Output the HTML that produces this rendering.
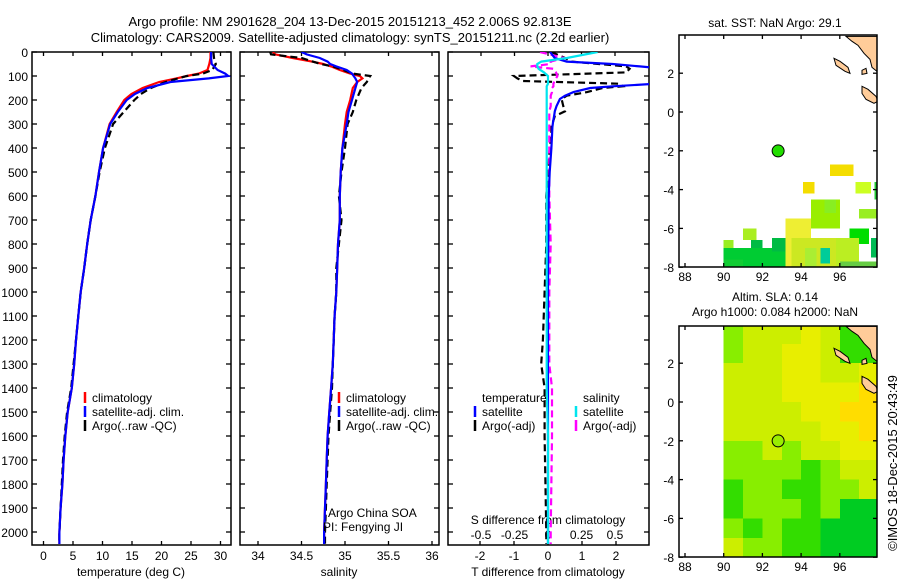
<!DOCTYPE html>
<html><head><meta charset="utf-8">
<style>
html,body{margin:0;padding:0;background:#fff;}
svg{display:block;font-family:"Liberation Sans",sans-serif;font-size:12px;}
</style></head>
<body>
<svg id="fig" width="900" height="580" viewBox="0 0 900 580" xmlns="http://www.w3.org/2000/svg">
<defs>
<clipPath id="c1"><rect x="32" y="52" width="199" height="493"/></clipPath>
<clipPath id="c2"><rect x="240" y="52" width="199" height="493"/></clipPath>
<clipPath id="c3"><rect x="448" y="52" width="201" height="493"/></clipPath>
<clipPath id="m1"><rect x="679" y="35" width="198" height="232"/></clipPath>
<clipPath id="m2"><rect x="679" y="326" width="198" height="231"/></clipPath>
</defs>
<text x="350" y="26" text-anchor="middle" font-size="13">Argo profile: NM 2901628_204 13-Dec-2015 20151213_452 2.006S 92.813E</text>
<text x="350" y="42" text-anchor="middle" font-size="13">Climatology: CARS2009. Satellite-adjusted climatology: synTS_20151211.nc (2.2d earlier)</text>
<g id="g"></g>
</svg>
<script>
// ---- data ----
var tDepth   = [0,25,50,75,90,100,110,125,150,175,200,250,300,400,500,600,700,800,900,1000,1100,1200,1300,1400,1500,1600,1700,1800,1900,2000,2050];
var tClim    = [28.3,28.3,28.1,27.8,26.3,24.3,22.5,19.6,16.8,14.9,13.7,12.4,11.2,10.1,9.4,8.8,8.0,7.4,6.9,6.3,5.9,5.5,5.2,4.8,4.1,3.7,3.4,3.2,2.9,2.7,2.7];
var tSat     = [28.4,28.4,28.5,29.5,30.8,31.3,28.0,21.5,17.6,15.5,14.1,12.6,11.3,10.1,9.4,8.8,8.0,7.4,6.9,6.3,5.9,5.5,5.2,4.8,4.1,3.7,3.4,3.2,2.9,2.7,2.7];
var tArgo    = [28.8,28.9,29.2,28.6,27.0,24.3,22.8,20.7,18.2,16.5,15.4,13.6,11.8,10.4,9.5,8.8,8.0,7.4,6.9,6.3,5.9,5.5,5.1,4.7,4.0,3.6,3.3,3.1,2.9,2.7,2.7];
var sDepth   = [0,10,25,40,50,60,75,90,100,110,125,150,200,250,300,400,500,600,700,800,900,1000,1100,1200,1300,1400,1500,1600,1700,1800,1900,2000,2050];
var sClim    = [34.17,34.2,34.4,34.62,34.75,34.84,34.94,35.06,35.17,35.2,35.14,35.09,35.06,35.02,35.0,34.97,34.95,34.94,34.94,34.92,34.91,34.9,34.88,34.87,34.86,34.84,34.82,34.8,34.79,34.78,34.77,34.76,34.76];
var sSat     = [34.5,34.56,34.71,34.8,34.83,34.9,35.02,35.08,35.1,35.12,35.14,35.12,35.08,35.04,35.02,34.97,34.95,34.94,34.94,34.92,34.91,34.9,34.88,34.87,34.86,34.84,34.82,34.8,34.79,34.78,34.77,34.76,34.76];
var sArgo    = [34.14,34.15,34.5,34.63,34.72,34.86,34.98,35.09,35.29,35.27,35.25,35.19,35.13,35.09,35.03,35.0,34.96,34.93,34.96,34.93,34.9,34.9,34.88,34.87,34.86,34.85,34.83,34.81,34.8,34.79,34.78,34.77,34.77];
var dDepth   = [0,25,40,50,60,70,85,100,110,121,132,143,150,167,182,196,226,247,267,290,313,340,400,500,600,800,1000,1200,1300,1400,1600,2000,2050];
var dTSat    = [0.06,0.2,0.55,1.9,2.7,3.5,4,4,4,4,3.2,1.9,1.24,0.75,0.5,0.35,0.25,0.2,0.18,0.15,0.13,0.12,0.1,0.05,0.02,0.01,0,0,0,0,0,0,0];
var dTArgo   = [0.1,0.5,0.7,1.5,2.3,2.4,2.3,-1.0,-0.9,-0.74,2.1,2.2,1.6,1.15,0.55,0.4,0.45,0.5,0.2,0.15,0.1,0.1,0.05,0.0,-0.05,-0.05,-0.1,-0.15,-0.2,-0.1,-0.1,-0.05,-0.05];
var dSSat    = [0.37,0.14,-0.05,-0.08,-0.08,-0.07,-0.03,0,0,0,0,-0.01,-0.01,-0.01,-0.01,-0.01,-0.01,-0.01,-0.01,-0.01,-0.01,-0.01,-0.01,-0.01,-0.01,-0.01,-0.01,-0.01,-0.01,-0.01,0,0,0];
var dSArgo   = [-0.06,0.12,0.02,0.02,-0.13,0.04,0.06,0.07,0.06,0.05,0.04,0.04,0.03,0.03,0.02,0.02,0.02,0.01,0.01,0.01,0.01,0.01,0.01,0.01,0.01,0.02,0.01,0.01,0.01,0.03,0.03,0.02,0.02];
var depthTicks = [0,100,200,300,400,500,600,700,800,900,1000,1100,1200,1300,1400,1500,1600,1700,1800,1900,2000];
var tTicks = [0,5,10,15,20,25,30];
var sTicks = [34,34.5,35,35.5,36];
var sTickLabels = ["34","34.5","35","35.5","36"];
var dtTicks = [-2,-1,0,1,2];
var dsTicks = [-0.5,-0.25,0,0.25,0.5];
var dsTickLabels = ["-0.5","-0.25","0","0.25","0.5"];
var lonTicks = [88,90,92,94,96];
var latTicks = [2,0,-2,-4,-6,-8];
var argoLon = [92.813];
var argoLat = [-2.006];
// SLA field: rows lat 4..-8, cols lon 90..98
var slaRows = ["lyyyYyGG","lyyYYyGG","yyyYYyyY","yyyYYYYo","yyyyYYoo","yyyyyYYo","llylyyYY","llllGlyy","GllGGlly","GlllGlgg","lGlGGggg","yllGGggg"];
var slaPal = {g:"#00cc22",G:"#33dd00",l:"#88ee00",y:"#ccee00",Y:"#e8ee00",o:"#ffdd00"};
// SST cells: lon0, lon1, lat0, lat1, color
var sstLon0 = [95.5,94.1,90,90,91,91.4,92.5,93.2,93.5,94.5,95.0,96.8,97.8,97.0,96.5,95.8,97.6,96.0,90,92,94.2,95.2];
var sstLon1 = [96.7,94.7,93.2,90.5,91.7,92.0,93.2,94.5,95.8,96.0,95.5,97.6,98.0,98.0,97.5,97.0,98.0,98.0,91,93,94.8,95.8];
var sstLat0 = [-2.7,-3.6,-7.0,-6.6,-6.0,-6.6,-6.5,-5.5,-6.5,-4.5,-7.0,-3.6,-3.6,-5.0,-6.0,-6.5,-6.5,-7.7,-7.6,-7.4,-7.0,-4.5];
var sstLat1 = [-3.3,-4.2,-8.0,-7.0,-6.6,-7.0,-7.2,-8.0,-8.0,-6.0,-7.8,-4.2,-4.5,-5.5,-6.8,-8.0,-7.5,-8.0,-8.0,-8.0,-8.0,-5.2];
var sstCol  = ["#f4dd00","#f4dd00","#00cc33","#99ee22","#aaee22","#00bb44","#00bb44","#eeee33","#cce822","#99ee00","#00cc99","#ccff22","#22cc33","#99ee22","#00dd00","#bbee22","#00bb55","#66cc44","#11cc33","#00cc33","#aaee33","#88ee22"];

// ---- helpers ----
var NS="http://www.w3.org/2000/svg", G=document.getElementById('g');
function el(tag, at, parent){var e=document.createElementNS(NS,tag);for(var k in at)e.setAttribute(k,at[k]);(parent||G).appendChild(e);return e;}
function yD(d){return 52+d*0.24;}
function xT(t){return 43.5+t*5.9;}
function xS(s){return 258+(s-34)*87;}
function xDT(t){return 548+t*34;}
function xDS(s){return 548+s*134;}
function mx(lon){return 685+(lon-88)*19.35;}
function my1(lat){return 112-lat*19.4;}
function my2(lat){return 402-lat*19.4;}
function txt(x,y,s,anchor,name,size){var t=el('text',{x:x,y:y,'text-anchor':anchor||'start'});if(size)t.setAttribute('font-size',size);t.textContent=s;
 
 
 return t;}
function series(depths, vals, xf, color, dash, clip, name){
 var pts=[];for(var i=0;i<depths.length;i++)pts.push(xf(vals[i]).toFixed(1)+','+yD(depths[i]).toFixed(1));
 var p=el('polyline',{points:pts.join(' '),fill:'none',stroke:color,'stroke-width':2.2,'clip-path':'url(#'+clip+')'});
 if(dash)p.setAttribute('stroke-dasharray','7,4');
 
 
}
function frame(x0,x1,y0,y1,name){var r=el('rect',{x:x0,y:y0,width:x1-x0,height:y1-y0,fill:'none',stroke:'#000','stroke-width':1.5});
 
 }
function tick(x1,y1,x2,y2){el('line',{x1:x1,y1:y1,x2:x2,y2:y2,stroke:'#000','stroke-width':1.3});}

// ---- profile panels ----
var panels=[[32,231],[240,439],[448,649]];
panels.forEach(function(p,k){
 frame(p[0],p[1],52,545,'profile-panel-'+(k+1)+'-frame');
 depthTicks.forEach(function(d){tick(p[0],yD(d),p[0]+5,yD(d));tick(p[1]-5,yD(d),p[1],yD(d));});
});
depthTicks.forEach(function(d){txt(28,yD(d)+5,String(d),'end','depth-tick-label');});
tTicks.forEach(function(t){tick(xT(t),52,xT(t),56);tick(xT(t),545,xT(t),541);txt(xT(t),560,String(t),'middle','temperature-tick-label');});
sTicks.forEach(function(s,i){tick(xS(s),52,xS(s),56);tick(xS(s),545,xS(s),541);txt(xS(s),560,sTickLabels[i],'middle','salinity-tick-label');});
dsTicks.forEach(function(s,i){tick(xDS(s),52,xDS(s),56);txt(xDS(s),539,dsTickLabels[i],'middle','s-difference-tick-label');});
dtTicks.forEach(function(t){tick(xDT(t),545,xDT(t),541);txt(xDT(t),560,String(t),'middle','t-difference-tick-label');});
txt(131,576,'temperature (deg C)','middle','temperature-axis-title');
txt(339,576,'salinity','middle','salinity-axis-title');
txt(548,576,'T difference from climatology','middle','t-difference-axis-title');
txt(548,524,'S difference from climatology','middle','s-difference-axis-title');

series(tDepth,tClim,xT,'#ff0000',false,'c1','temperature-climatology-line');
series(tDepth,tArgo,xT,'#000000',true,'c1','temperature-argo-line');
series(tDepth,tSat,xT,'#0000ff',false,'c1','temperature-satellite-line');
series(sDepth,sClim,xS,'#ff0000',false,'c2','salinity-climatology-line');
series(sDepth,sArgo,xS,'#000000',true,'c2','salinity-argo-line');
series(sDepth,sSat,xS,'#0000ff',false,'c2','salinity-satellite-line');
series(dDepth,dTArgo,xDT,'#000000',true,'c3','t-difference-argo-line');
series(dDepth,dSArgo,xDS,'#ff00ff',true,'c3','s-difference-argo-line');
series(dDepth,dTSat,xDT,'#0000ff',false,'c3','t-difference-satellite-line');
series(dDepth,dSSat,xDS,'#00e5ee',false,'c3','s-difference-satellite-line');

function legend(x,y,color,label,name){
 var l=el('line',{x1:x,y1:y-10,x2:x,y2:y+1,stroke:color,'stroke-width':2.5});
 
 
 txt(x+7,y,label,'start',name);
}
legend(85,402,'#ff0000','climatology','legend-climatology');
legend(85,416,'#0000ff','satellite-adj. clim.','legend-satellite');
legend(85,430,'#000000','Argo(..raw -QC)','legend-argo');
legend(339,402,'#ff0000','climatology','legend-sal-climatology');
legend(339,416,'#0000ff','satellite-adj. clim.','legend-sal-satellite');
legend(339,430,'#000000','Argo(..raw -QC)','legend-sal-argo');
txt(482,402,'temperature','start','legend-temperature-heading');
txt(583,402,'salinity','start','legend-salinity-heading');
legend(475,416,'#0000ff','satellite','legend-t-satellite');
legend(475,430,'#000000','Argo(-adj)','legend-t-argo');
legend(576,416,'#00e5ee','satellite','legend-s-satellite');
legend(576,430,'#ff00ff','Argo(-adj)','legend-s-argo');
txt(328,517,'Argo China SOA','start','data-centre-label');
txt(323,531,'PI: Fengying JI','start','pi-label');

// ---- maps ----
function land(my,clip,name){
 var g=el('g',{'clip-path':'url(#'+clip+')'});
 
 
 var o=my(3.9)-35;
 el('polygon',{points:'846,'+(35+o)+' 852,'+(40+o)+' 858,'+(44+o)+' 864,'+(52+o)+' 870,'+(58+o)+' 872,'+(66+o)+' 877,'+(70+o)+' 878,'+(35+o),fill:'#ffcc99',stroke:'#000','stroke-width':1},g);
 el('polygon',{points:'834,'+(57+o)+' 840,'+(60+o)+' 848,'+(66+o)+' 850,'+(72+o)+' 845,'+(70+o)+' 836,'+(64+o),fill:'#ffcc99',stroke:'#000','stroke-width':1},g);
 el('polygon',{points:'862,'+(69+o)+' 866,'+(67+o)+' 867,'+(72+o)+' 862,'+(73+o),fill:'#ffcc99',stroke:'#000','stroke-width':1},g);
 el('polygon',{points:'862,'+(85+o)+' 868,'+(88+o)+' 876,'+(95+o)+' 878,'+(100+o)+' 874,'+(102+o)+' 866,'+(98+o)+' 862,'+(92+o),fill:'#ffcc99',stroke:'#000','stroke-width':1},g);
}
// map 1 SST
var gs=el('g',{'clip-path':'url(#m1)','shape-rendering':'crispEdges'});


for(var i=0;i<sstLon0.length;i++){
 var r=el('rect',{x:mx(sstLon0[i]),y:my1(sstLat0[i]),width:mx(sstLon1[i])-mx(sstLon0[i]),height:my1(sstLat1[i])-my1(sstLat0[i]),fill:sstCol[i]},gs);
 
 
}
land(my1,'m1','sst-map-land');
// map 2 SLA
var ga=el('g',{'clip-path':'url(#m2)','shape-rendering':'crispEdges'});


for(var r0=0;r0<slaRows.length;r0++){for(var c=0;c<8;c++){
 var cell=el('rect',{x:mx(90+c),y:my2(4-r0),width:19.5,height:19.6,fill:slaPal[slaRows[r0][c]]},ga);
 
 
}}
land(my2,'m2','sla-map-land');
[[my1,35,267,'sst-map'],[my2,326,557,'sla-map']].forEach(function(m){
 frame(679,877,m[1],m[2],m[3]+'-frame');
 lonTicks.forEach(function(l){tick(mx(l),m[1],mx(l),m[1]+4);tick(mx(l),m[2],mx(l),m[2]-4);txt(mx(l),m[2]+14,String(l),'middle',m[3]+'-lon-tick-label');});
 latTicks.forEach(function(l){tick(679,m[0](l),683,m[0](l));tick(877,m[0](l),873,m[0](l));txt(674,m[0](l)+5,String(l),'end',m[3]+'-lat-tick-label');});
});
var d1=el('circle',{cx:mx(argoLon[0]),cy:my1(argoLat[0]),r:6,fill:'#22dd00',stroke:'#000','stroke-width':1});


var d2=el('circle',{cx:mx(argoLon[0]),cy:my2(argoLat[0]),r:6,fill:'#99ee00',stroke:'#000','stroke-width':1});


txt(775,27,'sat. SST: NaN Argo: 29.1','middle','sst-map-title');
txt(775,301,'Altim. SLA: 0.14','middle','sla-map-title-1');
txt(775,316,'Argo h1000: 0.084 h2000: NaN','middle','sla-map-title-2');
var cr=txt(0,0,'©IMOS 18-Dec-2015 20:43:49','middle','imos-timestamp',13);
cr.setAttribute('transform','translate(897,463) rotate(-90)');
</script>
</body></html>
